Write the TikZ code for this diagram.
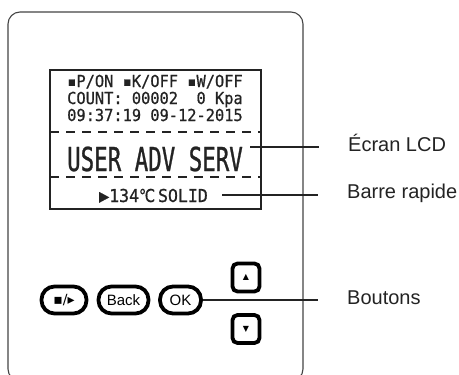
\documentclass[tikz,border=0pt]{standalone}
\usepackage{fontspec}
\setmainfont{Liberation Sans}
\newfontfamily\lcdfont[FakeStretch=0.93,FakeBold=0.8]{DejaVu Sans Mono}
\newfontfamily\lcdbig[FakeStretch=0.68,FakeBold=0.8]{DejaVu Sans Mono}
\newfontfamily\symfont{DejaVu Sans}
\newfontfamily\degfont[FakeStretch=0.8,FakeBold=0.8]{DejaVu Sans}
\definecolor{ink}{HTML}{232323}

\tikzset{
  frame/.style={draw=ink!85, line width=1.1pt, rounded corners=12pt},
  lcdbox/.style={draw=ink, line width=1.3pt},
  sep/.style={draw=ink, line width=1.2pt, dash pattern=on 9pt off 7pt},
  lcdline/.style={anchor=base west, inner sep=0pt, text=ink, font=\fontsize{16.5}{18}\lcdfont},
  pill/.style={draw=black, line width=3.8pt, rounded corners=13pt, minimum width=45pt, minimum height=27pt, inner sep=0pt, font=\fontsize{15}{16}\selectfont},
  arrowkey/.style={draw=black, line width=3.8pt, rounded corners=5pt, minimum width=27pt, minimum height=28pt, inner sep=0pt, font=\fontsize{8}{8}\symfont},
  callout/.style={anchor=west, inner sep=0pt, text height=0.72em, text depth=0pt, text=ink, font=\fontsize{20}{22}\selectfont},
  leader/.style={draw=ink, line width=1.1pt},
}

\begin{document}
\begin{tikzpicture}[x=1pt,y=-1pt]
    \clip (0,0) rectangle (459,375);
    \useasboundingbox (0,0) rectangle (459,375);

    % housing
    \draw[frame] (8,12) rectangle (303,381);

    % display
    \draw[lcdbox] (50,70) rectangle (261,209);
    \node[lcdline] (stat) at (67,87) {▪P/ON ▪K/OFF ▪W/OFF};
    \node[lcdline] (count) at (67,104) {COUNT: 00002~~0 Kpa};
    \node[lcdline] (clock) at (67,121) {09:37:19 09-12-2015};
    \draw[sep] (50,132) -- (261,132);
    \node[lcdline, font=\fontsize{33}{36}\lcdbig] (menu) at (67,171) {USER ADV SERV};
    \draw[sep] (50,177) -- (261,177);
    \node[lcdline, font=\fontsize{17.8}{19}\lcdfont] (bar) at (99,202) {▶134{\degfont ℃}\,SOLID};

    % keys
    \node[pill] (play) at (64,300) {\fontsize{14}{14}\symfont ▪/▸};
    \node[pill, minimum width=50pt] (back) at (123.5,300) {Back};
    \node[pill, minimum width=41pt] (ok) at (180.5,300) {OK};
    \node[arrowkey] (up) at (246,277.5) {▲};
    \node[arrowkey] (down) at (246,329) {▼};

    % callouts
    \node[callout] (lcdlbl) at (348,148) {Écran LCD};
    \node[callout] (barlbl) at (347,195) {Barre rapide};
    \node[callout] (btnlbl) at (347,301) {Boutons};

    \coordinate (lcdtip) at (250,147);
    \coordinate (bartip) at (222,195);
    \draw[leader] (lcdtip) -- ([xshift=-29pt]lcdlbl.west |- lcdtip);
    \draw[leader] (bartip) -- ([xshift=-29pt]barlbl.west |- bartip);
    \draw[leader] (ok.east) -- ([xshift=-29pt]btnlbl.west |- ok.east);
\end{tikzpicture}
\end{document}
